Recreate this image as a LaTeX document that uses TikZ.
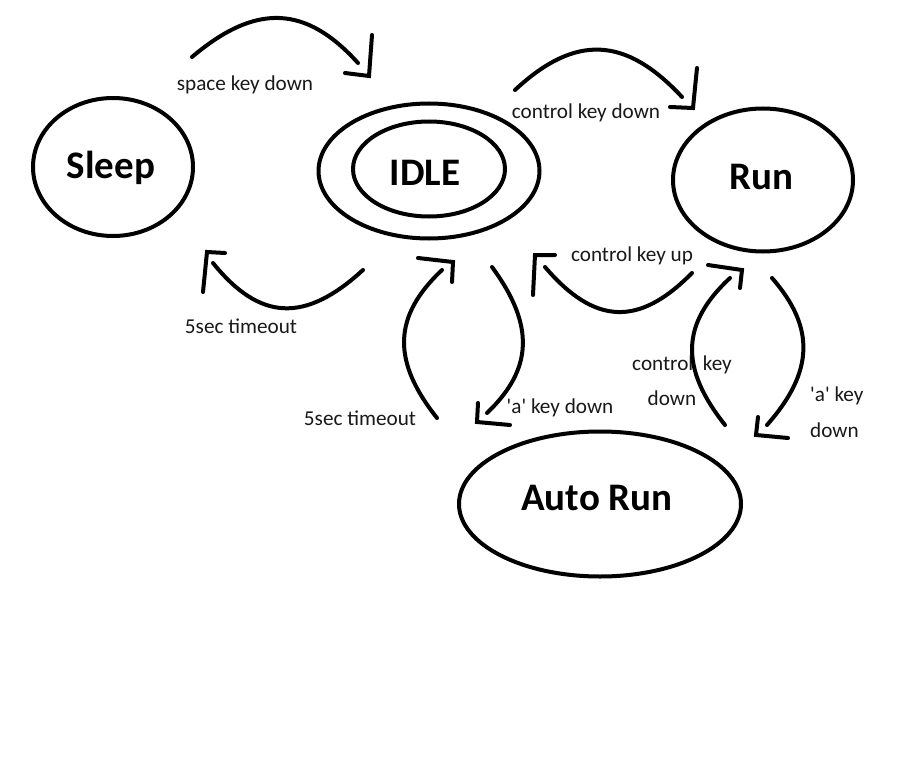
\documentclass[tikz,border=0pt]{standalone}
\usepackage{fontspec}
\setmainfont{Carlito}
\usetikzlibrary{shapes.geometric,calc}
\begin{document}
\begin{tikzpicture}[x=1pt,y=-1pt,
  state/.style={draw,ellipse,line width=4pt,inner sep=0pt},
  stname/.style={font=\fontsize{39}{42}\selectfont\bfseries,inner sep=0pt},
  lbl/.style={font=\fontsize{21.2}{24}\selectfont,inner sep=0pt,text=black!90},
  stroke/.style={line width=4pt,line cap=round,line join=miter}]
\useasboundingbox[fill=white] (0,0) rectangle (900,784);

% states
\node[state,minimum width=160pt,minimum height=138pt] (sleep) at (113,167) {};
\node[state,minimum width=221pt,minimum height=135pt] (idle) at (429,171) {};
\node[state,minimum width=152pt,minimum height=95pt] (idlein) at (429,169) {};
\node[state,minimum width=180pt,minimum height=143pt] (run) at (763,180) {};
\node[state,minimum width=282pt,minimum height=145pt] (auto) at (600,504) {};
\node[stname] (sleept) at ($(sleep.center)+(-2,1)$) {Sleep};
\node[stname] (idlet) at ($(idlein.center)+(-4,4)$) {IDLE};
\node[stname] (runt) at ($(run.center)+(-2,-3)$) {Run};
\node[stname] (autot) at ($(auto.center)+(-3,-6)$) {Auto Run};

% labels
\node[lbl] (l1) at (245,85) {space key down};
\node[lbl] (l2) at (586,113) {control key down};
\node[lbl] (l3) at (241,326) {5sec timeout};
\node[lbl] (l4) at (632,256) {control key up};
\node[lbl] (l5) at (360,418) {5sec timeout};
\node[lbl] (l6) at (560,408) {\textquotesingle a\textquotesingle\ key down};
\node[lbl] (l7) at (682,365) {control\hspace{0.45em}key};
\node[lbl] (l7b) at (672,398) {down};
\node[lbl,anchor=west] (l8) at (810,396) {\textquotesingle a\textquotesingle\ key};
\node[lbl,anchor=west] (l8b) at (810,430) {down};

% arc endpoints and control points
\coordinate (a1s) at (192,57);  \coordinate (a1q) at (283,-20); \coordinate (a1e) at (358,63);
\coordinate (a2s) at (515,90);  \coordinate (a2q) at (601,10);  \coordinate (a2e) at (682,97);
\coordinate (a3s) at (363,270); \coordinate (a3q) at (280,346); \coordinate (a3e) at (213,263);
\coordinate (a4s) at (437,418); \coordinate (a4q) at (372,336); \coordinate (a4e) at (442,270);
\coordinate (a5s) at (492,267); \coordinate (a5q) at (553,350); \coordinate (a5e) at (487,413);
\coordinate (a6s) at (692,273); \coordinate (a6q) at (616,350); \coordinate (a6e) at (545,267);
\coordinate (a7s) at (725,425); \coordinate (a7q) at (660,343); \coordinate (a7e) at (730,278);
\coordinate (a8s) at (772,278); \coordinate (a8q) at (834,349); \coordinate (a8e) at (767,425);

\foreach \i in {1,...,8}{
  \draw[stroke] (a\i s) .. controls ($(a\i s)!0.7!(a\i q)$) and ($(a\i e)!0.7!(a\i q)$) .. (a\i e);
}

% hand-drawn arrowheads
\coordinate (h1a) at (372,35);  \coordinate (h1b) at (369,76);  \coordinate (h1c) at (345,73);
\coordinate (h2a) at (697,68);  \coordinate (h2b) at (693,108); \coordinate (h2c) at (670,107);
\coordinate (h3a) at (225,253); \coordinate (h3b) at (207,252); \coordinate (h3c) at (203,292);
\coordinate (h4a) at (418,258); \coordinate (h4b) at (453,262); \coordinate (h4c) at (452,282);
\coordinate (h5a) at (478,403); \coordinate (h5b) at (477,422); \coordinate (h5c) at (510,425);
\coordinate (h6a) at (555,255); \coordinate (h6b) at (535,255); \coordinate (h6c) at (533,295);
\coordinate (h7a) at (708,265); \coordinate (h7b) at (742,270); \coordinate (h7c) at (740,288);
\coordinate (h8a) at (758,417); \coordinate (h8b) at (756,435); \coordinate (h8c) at (788,438);

\foreach \i in {1,...,8}{
  \draw[stroke] (h\i a) -- (h\i b) -- (h\i c);
}
\end{tikzpicture}
\end{document}
